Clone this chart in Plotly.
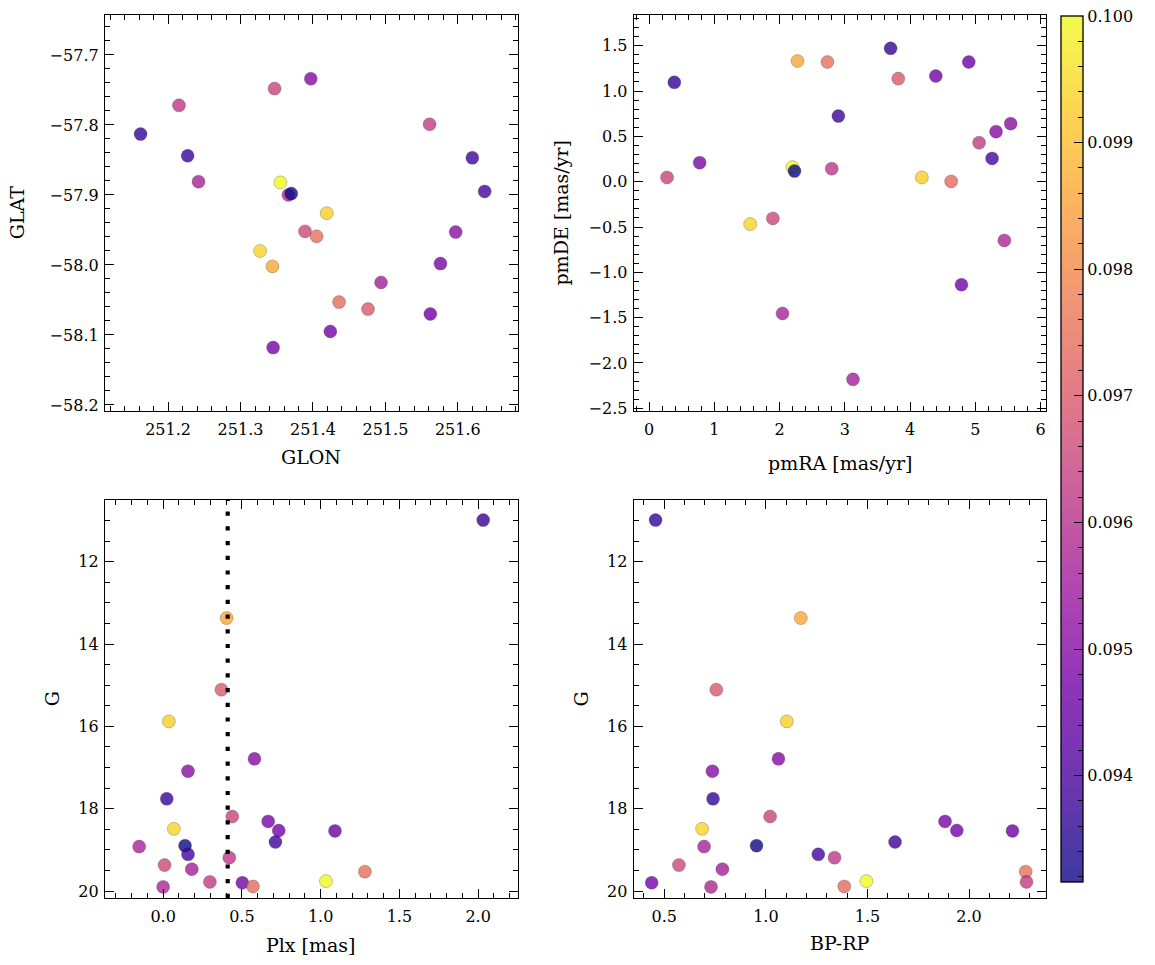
import plotly.graph_objects as go

# ---------------- data (one entry per star) ----------------
glon = [251.162, 251.344, 251.476, 251.419, 251.397, 251.597, 251.227, 251.347, 251.576, 251.327,
        251.424, 251.562, 251.620, 251.242, 251.366, 251.355, 251.370, 251.637, 251.215, 251.389,
        251.494, 251.405, 251.561, 251.345, 251.436]
glat = [-57.813, -58.002, -58.063, -57.926, -57.734, -57.953, -57.844, -57.748, -57.998, -57.980,
        -58.095, -58.070, -57.847, -57.881, -57.900, -57.882, -57.898, -57.895, -57.772, -57.952,
        -58.025, -57.959, -57.799, -58.118, -58.053]
pmra = [3.700, 2.274, 3.818, 4.179, 5.316, 5.540, 0.387, 0.275, 0.775, 1.549,
        4.393, 4.898, 2.900, 2.044, 5.443, 2.197, 2.228, 5.255, 2.798, 1.896,
        3.124, 2.732, 5.056, 4.786, 4.628]
pmde = [1.471, 1.331, 1.137, 0.047, 0.552, 0.640, 1.096, 0.047, 0.210, -0.468,
        1.166, 1.320, 0.724, -1.454, -0.648, 0.161, 0.117, 0.257, 0.143, -0.405,
        -2.180, 1.320, 0.430, -1.137, 0.003]
plx = [2.032, 0.403, 0.370, 0.036, 0.580, 0.158, 0.023, 0.439, 0.667, 0.068,
       0.734, 1.091, 0.713, -0.152, 0.000, 1.034, 0.139, 0.158, 0.420, 0.009,
       0.182, 1.281, 0.297, 0.503, 0.570]
gmag = [10.99, 13.37, 15.11, 15.88, 16.79, 17.09, 17.76, 18.19, 18.31, 18.49,
        18.53, 18.54, 18.81, 18.92, 19.90, 19.76, 18.90, 19.11, 19.19, 19.37,
        19.47, 19.53, 19.78, 19.80, 19.89]
bprp = [0.457, 1.172, 0.756, 1.103, 1.062, 0.737, 0.740, 1.021, 1.882, 0.686,
        1.940, 2.214, 1.636, 0.696, 0.730, 1.495, 0.954, 1.258, 1.338, 0.572,
        0.786, 2.279, 2.283, 0.438, 1.386]
cval = [0.0937, 0.0986, 0.0970, 0.0993, 0.0950, 0.0951, 0.0937, 0.0965, 0.0948, 0.0994,
        0.0947, 0.0946, 0.0938, 0.0957, 0.0958, 0.1000, 0.09316, 0.0939, 0.0962, 0.0966,
        0.0956, 0.0975, 0.0963, 0.0947, 0.0974]
PLX_CUT = 0.41

CMIN, CMAX = min(cval), max(cval)
cbar_major = [0.094, 0.095, 0.096, 0.097, 0.098, 0.099, 0.100]
cbar_minor = [round(0.0932 + 0.0002 * i, 4) for i in range(35)]
cbar_minor = [v for v in cbar_minor if v <= 0.1 and all(abs(v - m) > 1e-7 for m in cbar_major)]

# ---------------- styling ----------------
FONT = "DejaVu Serif"
plasma = ['#0d0887', '#46039f', '#7201a8', '#9c179e', '#bd3786',
          '#d8576b', '#ed7953', '#fb9f3a', '#fdca26', '#f0f921']
ALPHA = 0.8


def blend(h, a=ALPHA):
    r, g, b = int(h[1:3], 16), int(h[3:5], 16), int(h[5:7], 16)
    f = lambda c: round(a * c + (1 - a) * 255)
    return f"rgb({f(r)},{f(g)},{f(b)})"


n = len(plasma)
scale_raw = [[i / (n - 1), c] for i, c in enumerate(plasma)]
scale_bl = [[i / (n - 1), blend(c)] for i, c in enumerate(plasma)]
scale_clear = [[0, 'rgba(0,0,0,0)'], [1, 'rgba(0,0,0,0)']]

W, H = 1155, 965
ML, MR, MT, MB = 105, 106, 15, 67
PW, PH = W - ML - MR, H - MT - MB


def px2x(p):
    return (p - ML) / PW


def px2y(p):
    return (H - MB - p) / PH


fig = go.Figure()

panels = [("x", "y", glon, glat), ("x2", "y2", pmra, pmde),
          ("x3", "y3", plx, gmag), ("x4", "y4", bprp, gmag)]
for xa, ya, xs, ys in panels:
    fig.add_trace(go.Scatter(
        x=xs, y=ys, xaxis=xa, yaxis=ya, mode="markers", showlegend=False,
        marker=dict(size=13, color=cval, colorscale=scale_raw, cmin=CMIN, cmax=CMAX,
                    opacity=ALPHA, showscale=False,
                    line=dict(width=0.5, color="rgba(0,0,0,0.55)"))))

cb_common = dict(x=px2x(1064), xanchor="left", xpad=0, thickness=22,
                 lenmode="pixels", len=866, y=px2y(449), yanchor="middle", ypad=0,
                 ticks="inside", tickcolor="black")
# colour bar with minor ticks
fig.add_trace(go.Scatter(
    x=[None], y=[None], xaxis="x", yaxis="y", mode="markers", showlegend=False, hoverinfo="skip",
    marker=dict(color=[CMIN, CMAX], cmin=CMIN, cmax=CMAX, colorscale=scale_bl, showscale=True,
                colorbar=dict(**cb_common, tickmode="array", tickvals=cbar_minor, ticklen=5,
                              tickwidth=1, showticklabels=False, outlinewidth=0))))
# transparent overlay with major ticks + labels + outline
fig.add_trace(go.Scatter(
    x=[None], y=[None], xaxis="x", yaxis="y", mode="markers", showlegend=False, hoverinfo="skip",
    marker=dict(color=[CMIN, CMAX], cmin=CMIN, cmax=CMAX, colorscale=scale_clear, showscale=True,
                colorbar=dict(**cb_common, tickmode="array", tickvals=cbar_major,
                              ticktext=[f"{v:.3f}" for v in cbar_major], ticklen=9, tickwidth=1.2,
                              outlinewidth=1.3, outlinecolor="black",
                              tickfont=dict(family=FONT, size=16, color="black")))))


def ax(domain, rng, dtick, tick0, minor, fmt=None, anchor=None, standoff=0):
    d = dict(domain=domain, range=rng, tick0=tick0, dtick=dtick, showline=True,
             linecolor="black", linewidth=1.3, mirror="allticks", ticks="inside",
             ticklen=9, tickwidth=1.2, tickcolor="black", showgrid=False, zeroline=False,
             tickfont=dict(family=FONT, size=16, color="black"),
             ticklabelstandoff=standoff,
             minor=dict(dtick=minor, tick0=tick0, ticks="inside", ticklen=5, tickwidth=1,
                        tickcolor="black", showgrid=False),
             anchor=anchor)
    if fmt:
        d["tickformat"] = fmt
    return d


XL = [0, px2x(519)]
XR = [px2x(635.5), 1.0]
YT = [px2y(411), 1.0]
YB = [0, px2y(500)]

fig.update_layout(
    width=W, height=H, margin=dict(l=ML, r=MR, t=MT, b=MB),
    paper_bgcolor="white", plot_bgcolor="white",
    font=dict(family=FONT, color="black"),
    xaxis=ax(XL, [251.1129, 251.6826], 0.1, 251.2, 0.02, ".1f", "y", 4),
    yaxis=ax(YT, [-58.2086, -57.6429], 0.1, -58.2, 0.02, ".1f", "x", 2),
    xaxis2=ax(XR, [-0.234, 6.081], 1, 0, 0.2, None, "y2", 4),
    yaxis2=ax(YT, [-2.5298, 1.8387], 0.5, 0, 0.1, ".1f", "x2", 2),
    xaxis3=ax(XL, [-0.369, 2.251], 0.5, 0, 0.1, ".1f", "y3", 4),
    yaxis3=ax(YB, [20.17, 10.502], 2, 0, 0.5, None, "x3", 2),
    xaxis4=ax(XR, [0.35, 2.379], 0.5, 0, 0.1, ".1f", "y4", 4),
    yaxis4=ax(YB, [20.17, 10.502], 2, 0, 0.5, None, "x4", 2),
)

fig.add_shape(type="line", xref="x3", yref="y3 domain", x0=PLX_CUT, x1=PLX_CUT, y0=0, y1=1,
              line=dict(color="black", width=4.2, dash="4.2px,10.5px"), layer="above")

LBL = dict(family=FONT, size=19, color="black")
ann = [
    ("GLON", (px2x(105) + px2x(519)) / 2, px2y(457), 0),
    ("GLAT", px2x(17), px2y(213), -90),
    ("pmRA [mas/yr]", (px2x(635.5) + 1) / 2, px2y(463), 0),
    ("pmDE [mas/yr]", px2x(562), px2y(213), -90),
    ("Plx [mas]", (px2x(105) + px2x(519)) / 2, px2y(945), 0),
    ("G", px2x(52), px2y(699), -90),
    ("BP-RP", (px2x(635.5) + 1) / 2, px2y(943), 0),
    ("G", px2x(583), px2y(699), -90),
]
for t, x, y, a in ann:
    fig.add_annotation(text=t, x=x, y=y, xref="paper", yref="paper", showarrow=False,
                       xanchor="center", yanchor="middle", textangle=a, font=LBL)

fig.write_html("out.html")
